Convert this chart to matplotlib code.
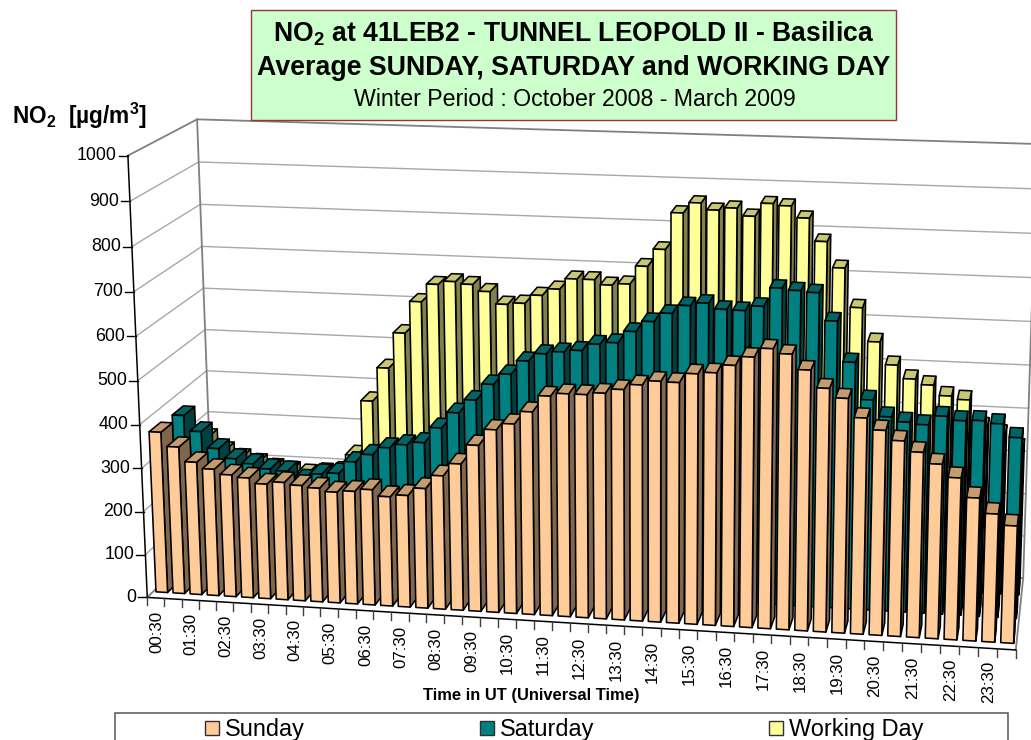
import numpy as np
import matplotlib
matplotlib.use('Agg')
import matplotlib.pyplot as plt
from matplotlib.patches import Polygon, Rectangle

plt.rcParams['font.family'] = ['Liberation Sans', 'DejaVu Sans']
plt.rcParams['mathtext.default'] = 'regular'

hours = ['%02d:30' % h for h in range(24)]
value_ticks = [0, 100, 200, 300, 400, 500, 600, 700, 800, 900, 1000]

sunday = [373, 341, 308, 294, 283, 278, 266, 272, 267, 263, 256, 260, 266, 252, 257, 275,
          306, 335, 379, 416, 431, 460, 497, 504, 504, 509, 519, 531, 541, 540, 561, 565, 583,
          603, 623, 613, 580, 542, 522, 481, 456, 435, 412, 388, 360, 318, 285, 261]
saturday = [368, 332, 294, 272, 262, 252, 249, 231, 246, 250, 279, 298, 316,
            325, 332, 368, 405, 436, 474, 499, 531, 549, 555, 560, 576, 581, 608, 632, 652, 671, 678, 666,
            665, 676, 718, 714, 711, 650, 560, 478, 442, 432, 428, 449, 441, 443, 438, 409]
working_day = [270, 240, 225, 215, 205, 200, 195, 200, 205, 247, 378,
               458, 542, 617, 659, 667, 662, 647, 619, 623, 643, 659, 684, 684, 673, 677, 719,
               759, 843, 867, 852, 858, 841, 871, 867, 841, 790, 732, 644, 568, 517, 487, 475, 452, 445,
               385, 370, 340]

series_names = ['Sunday', 'Saturday', 'Working Day']
n_cat = len(sunday)
v_max = 1000.0

# face colours: front, side, top
sunday_col = ('#FFCC99', '#80664D', '#C49C70')
saturday_col = ('#008080', '#004040', '#006464')
working_col = ('#FFFF99', '#80804D', '#C8C874')

# camera: unit box corner -> picture position, fitted as a projective map
box = [(0, 0, 0), (0, 0, 1), (0, 1, 0), (0, 1, 1), (1, 0, 0), (1, 1, 0), (1, 1, 1)]
pic = [(147, 597), (128, 156), (213, 533), (197, 119), (1016, 650), (1023, 578), (1037, 144)]


def fit_camera(box, pic):
    rows, rhs = [], []
    for (a, b, c), (u, v) in zip(box, pic):
        rows.append([a, b, c, 1, 0, 0, 0, 0, -u * a, -u * b, -u * c])
        rhs.append(u)
        rows.append([0, 0, 0, 0, a, b, c, 1, -v * a, -v * b, -v * c])
        rhs.append(v)
    sol = np.linalg.lstsq(np.array(rows, float), np.array(rhs, float), rcond=None)[0]
    return np.append(sol, 1.0).reshape(3, 4)


cam = fit_camera(box, pic)


def project(x, d, v):
    # x: category position 0..n_cat, d: depth 0..1, v: value
    p = cam @ np.array([x / n_cat, d, v / v_max, 1.0])
    return p[0] / p[2], p[1] / p[2]


fig = plt.figure(figsize=(10.31, 7.40), dpi=100)
ax = fig.add_axes([0, 0, 1, 1])
ax.set_xlim(0, 1031)
ax.set_ylim(740, 0)
ax.axis('off')

# walls
grid_col = '#A8A8A8'
wall_col = '#808080'
for v in value_ticks:
    col, lw = (wall_col, 1.3) if v in (0, 1000) else (grid_col, 1.0)
    pts = [project(0, 0, v), project(0, 1, v), project(n_cat, 1, v)]
    ax.plot([p[0] for p in pts], [p[1] for p in pts], color=col, lw=lw, zorder=1)
for a, b in [((0, 1, 0), (0, 1, v_max)), ((n_cat, 1, 0), (n_cat, 1, v_max)), ((n_cat, 0, 0), (n_cat, 1, 0))]:
    p, q = project(*a), project(*b)
    ax.plot([p[0], q[0]], [p[1], q[1]], color=wall_col, lw=1.3, zorder=1)


def draw_bar(i, slot, value, cols):
    x0, x1 = i + 0.17, i + 0.85
    d0, d1 = (slot + 0.25) / 3, (slot + 0.75) / 3
    front = [project(x0, d0, 0), project(x1, d0, 0), project(x1, d0, value), project(x0, d0, value)]
    side = [project(x1, d0, 0), project(x1, d1, 0), project(x1, d1, value), project(x1, d0, value)]
    top = [project(x0, d0, value), project(x1, d0, value), project(x1, d1, value), project(x0, d1, value)]
    for face, col in zip((side, top, front), (cols[1], cols[2], cols[0])):
        ax.add_patch(Polygon(face, closed=True, facecolor=col, edgecolor='black', lw=1.15,
                             joinstyle='round', zorder=2))


for slot, values, cols in [(2, working_day, working_col), (1, saturday, saturday_col), (0, sunday, sunday_col)]:
    for i, value in enumerate(values):
        draw_bar(i, slot, value, cols)

# value axis
p, q = project(0, 0, 0), project(0, 0, v_max)
ax.plot([p[0], q[0]], [p[1], q[1]], color='black', lw=1.1, zorder=3)
for v in value_ticks:
    px, py = project(0, 0, v)
    ax.plot([px - 9, px], [py, py], color='black', lw=1.0, zorder=3)
    ax.text(px - 11, py, str(v), ha='right', va='center', fontsize=12.8, color='black')

# category axis
p, q = project(0, 0, 0), project(n_cat, 0, 0)
ax.plot([p[0], q[0]], [p[1], q[1]], color='black', lw=1.1, zorder=3)
for i in range(n_cat + 1):
    px, py = project(i, 0, 0)
    ax.plot([px, px], [py, py + 8], color='#404040', lw=1.0, zorder=3)
for k, label in enumerate(hours):
    px, py = project(2 * k + 0.5, 0, 0)
    ax.text(px + 1, py + 13, label, rotation=90, ha='center', va='top', fontsize=12.2, color='black')

# title box
ax.add_patch(Rectangle((251, 10), 645, 110, facecolor='#CCFFCC', edgecolor='#993333', lw=1.0, zorder=4))
ax.text(573.5, 42, 'NO$_2$ at 41LEB2 - TUNNEL LEOPOLD II - Basilica', ha='center', va='baseline',
        fontsize=19.1, fontweight='bold', zorder=5)
ax.text(573.5, 75, 'Average SUNDAY, SATURDAY and WORKING DAY', ha='center', va='baseline',
        fontsize=19.3, fontweight='bold', zorder=5)
ax.text(574.5, 106, 'Winter Period : October 2008 - March 2009', ha='center', va='baseline',
        fontsize=16.7, zorder=5)

ax.text(12, 124, 'NO$_2$  [µg/m$^3$]', ha='left', va='baseline', fontsize=16.3, fontweight='bold')
ax.text(531, 700, 'Time in UT (Universal Time)', ha='center', va='baseline', fontsize=11.9, fontweight='bold')

# legend, cut by the bottom of the picture
ax.add_patch(Rectangle((115, 713), 893, 40, facecolor='white', edgecolor='#555555', lw=1.1, zorder=4))
swatch_x = [205, 480, 769]
for name, x, cols in zip(series_names, swatch_x, (sunday_col, saturday_col, working_col)):
    ax.add_patch(Rectangle((x, 721), 14, 14, facecolor=cols[0], edgecolor='#303030', lw=1.0, zorder=5))
    ax.text(x + 20, 736, name, ha='left', va='baseline', fontsize=16.9, zorder=5, clip_on=True)

fig.savefig('out.png', dpi=100)
